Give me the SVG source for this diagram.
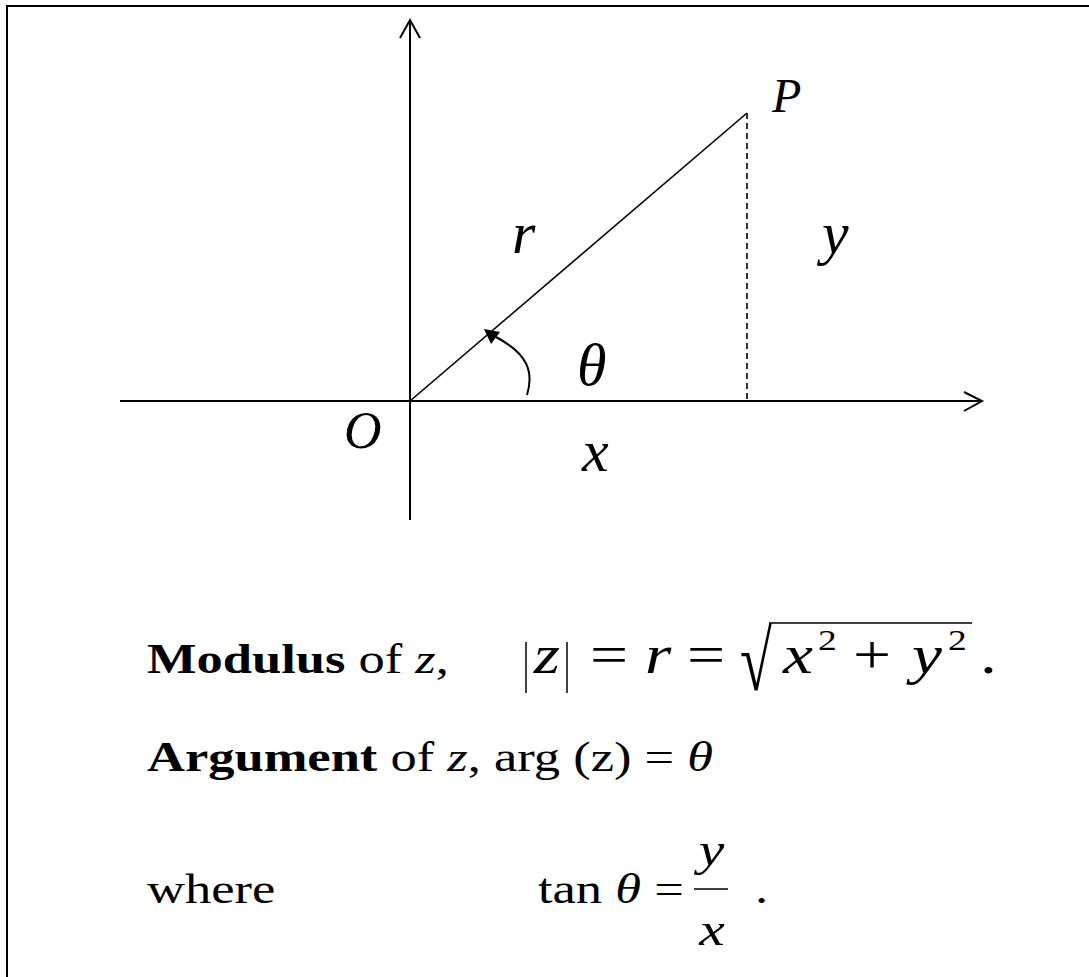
<svg xmlns="http://www.w3.org/2000/svg" width="1089" height="977" viewBox="0 0 1089 977">
<style>
.ln{stroke:#000;fill:none}
.ax{stroke-width:2}
.t{font-family:"Liberation Serif","Times New Roman",serif;fill:#000}
.i{font-style:italic}
.b{font-weight:bold}
</style>
<rect x="0" y="0" width="1089" height="977" fill="#fff"/>
<rect id="frame" x="7" y="6" width="1200" height="1100" class="ln" stroke-width="2"/>
<g id="connectors">
  <line id="yaxis" class="ln ax" x1="410" y1="520" x2="410" y2="21"/>
  <polyline class="ln ax" points="400,38 410,20 420,38"/>
  <line id="xaxis" class="ln ax" x1="120" y1="401" x2="981" y2="401"/>
  <polyline class="ln ax" points="964,392 982,401 964,411"/>
  <line id="radius" class="ln" stroke-width="1.6" x1="410" y1="401" x2="747" y2="113"/>
  <line id="proj" class="ln" stroke-width="1.6" stroke-dasharray="6,4" x1="747" y1="113" x2="747" y2="401"/>
  <path id="angle" class="ln" stroke-width="2" d="M527,395 C534,372 528,354 496,337"/>
  <polygon points="484,329 500,332 491,344" fill="#000"/>
</g>
<g id="labels">
  <text class="t i" x="772" y="112" font-size="48">P</text>
  <text class="t i" x="512" y="253" font-size="60">r</text>
  <text class="t i" x="822" y="253" font-size="60">y</text>
  <text class="t i" x="577" y="385" font-size="60">θ</text>
  <text class="t i" x="344" y="448" font-size="52">O</text>
  <text class="t i" x="582" y="471" font-size="60">x</text>
</g>
<g id="modulus">
  <g transform="scale(1.25,1)">
    <text class="t" x="117.6" y="673" font-size="42"><tspan class="b">Modulus</tspan> of <tspan class="i">z</tspan>,</text>
    <text class="t i" x="427" y="673" font-size="54">z</text>
    <text class="t" x="472" y="673" font-size="54">=</text>
    <text class="t i" x="516" y="673" font-size="54">r</text>
    <text class="t" x="549.6" y="673" font-size="54">=</text>
    <text class="t i" x="626.4" y="673" font-size="54">x</text>
    <text class="t" x="654.4" y="650" font-size="30">2</text>
    <text class="t" x="682.4" y="673" font-size="54">+</text>
    <text class="t i" x="729.6" y="673" font-size="54">y</text>
    <text class="t" x="758.4" y="650" font-size="30">2</text>
    <text class="t" x="784" y="673" font-size="54">.</text>
  </g>
  <line class="ln" stroke-width="1.5" x1="526" y1="642" x2="526" y2="693"/>
  <line class="ln" stroke-width="1.5" x1="567" y1="642" x2="567" y2="693"/>
  <text class="t" transform="translate(740,690) scale(1,1.45)" x="0" y="0" font-size="58">√</text>
  <line class="ln" stroke-width="1.5" x1="769" y1="623" x2="972" y2="623"/>
</g>
<g id="argument">
  <g transform="scale(1.25,1)">
    <text class="t" x="117.6" y="771" font-size="42"><tspan class="b">Argument</tspan> of <tspan class="i">z</tspan>,  arg (z) = <tspan class="i">θ</tspan></text>
  </g>
</g>
<g id="where">
  <g transform="scale(1.25,1)">
    <text class="t" x="117.6" y="903" font-size="42">where</text>
    <text class="t" x="430.4" y="903" font-size="42">tan <tspan class="i">θ</tspan> =</text>
    <text class="t i" x="559" y="865" font-size="46">y</text>
    <text class="t i" x="559.5" y="945" font-size="46">x</text>
    <text class="t" x="604" y="903" font-size="42">.</text>
  </g>
  <line class="ln" stroke-width="1.5" x1="694" y1="889" x2="728" y2="889"/>
</g>
</svg>
